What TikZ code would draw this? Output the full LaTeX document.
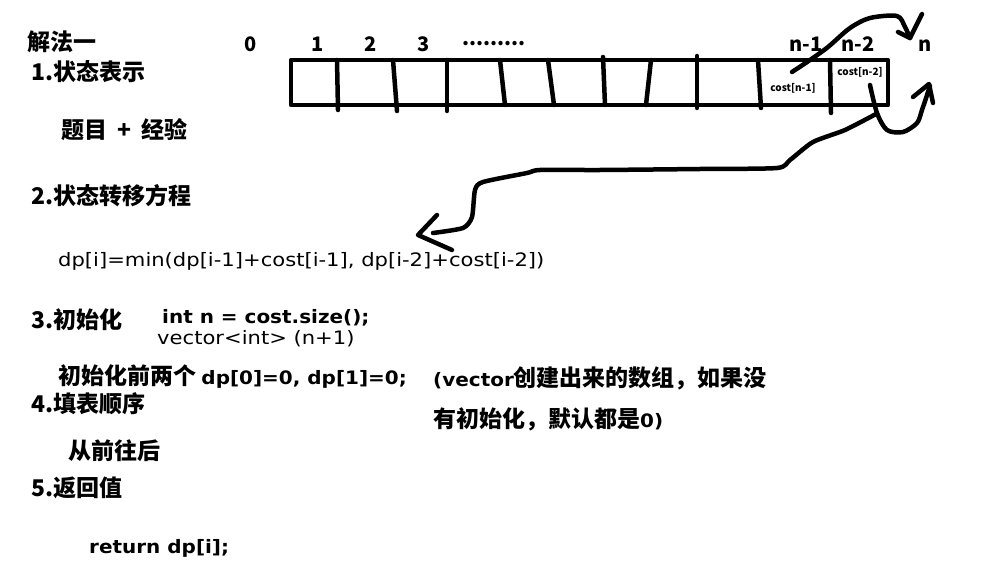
\documentclass[tikz,border=0pt]{standalone}
\usepackage{fontspec}
\setmainfont{Noto Sans CJK SC}
\newfontfamily\latr[FakeStretch=1.14]{DejaVu Sans}
\newfontfamily\latb[FakeStretch=1.08]{DejaVu Sans Bold}
\newcommand{\latrf}{\latr\fontsize{18.5}{18.5}\selectfont}
\newcommand{\latbf}{\latb\fontsize{18.5}{18.5}\selectfont}
\begin{document}
\begin{tikzpicture}[x=1pt,y=-1pt,
  hd/.style={line width=4.5pt,line cap=round,line join=round},
  tb/.style={anchor=west,inner sep=0pt,font=\bfseries\fontsize{23}{23}\selectfont},
  tr/.style={anchor=west,inner sep=0pt,font=\latrf},
  lb/.style={anchor=west,inner sep=0pt,font=\latbf},
  idx/.style={inner sep=0pt,font=\bfseries\fontsize{20}{20}\selectfont},
  sm/.style={inner sep=0pt,font=\bfseries\fontsize{10}{10}\selectfont}]
\useasboundingbox (0,0) rectangle (983,575);
% left column texts
\node[tb] (t0) at (27,42) {解法一};
\node[tb] (t1) at (31,72) {1.状态表示};
\node[tb] (t1b) at (61,130) {题目\hspace{5pt} + \hspace{5pt}经验};
\node[tb] (t2) at (31,196) {2.状态转移方程};
\node[tr] (eq) at (58,261) {dp[i]=min(dp[i-1]+cost[i-1], dp[i-2]+cost[i-2])};
\node[tb] (t3) at (31,320) {3.初始化};
\node[lb] (c1) at (162,318) {int n = cost.size();};
\node[tr] (c2) at (157,339) {vector<int> (n+1)};
\node[tb] (c3) at (58,376) {初始化前两个 {\latbf dp[0]=0, dp[1]=0;}};
\node[tb] (t4) at (31,404) {4.填表顺序};
\node[tb] (n1) at (433,378) {{\latbf (vector}创建出来的数组，如果没};
\node[tb] (n2) at (433,419) {有初始化，默认都是{\latbf 0)}};
\node[tb] (t4b) at (68,451) {从前往后};
\node[tb] (t5) at (31,488) {5.返回值};
\node[lb] (r) at (89,548) {return dp[i];};
% indices
\node[idx] (i0) at (251,44) {0};
\node[idx] (i1) at (318,44) {1};
\node[idx] (i2) at (371,44) {2};
\node[idx] (i3) at (424,44) {3};
\node[idx] (id) at (494,44) {.........};
\node[idx] (inm1) at (806,44) {n-1};
\node[idx] (inm2) at (858,44) {n-2};
\node[idx] (in) at (925,46) {n};
% array
\draw[hd] (291,60) rectangle (888,105);
\draw[hd] (337,60) -- (338,110);
\draw[hd] (393,60) -- (397,111);
\draw[hd] (447,60) -- (447,111);
\draw[hd] (500,60) -- (505,105);
\draw[hd] (548,60) -- (554,105);
\draw[hd] (603,57) -- (605,105);
\draw[hd] (651,60) -- (646,105);
\draw[hd] (697,56) -- (697,108);
\draw[hd] (758,60) -- (761,108);
\draw[hd] (830,60) -- (831,113);
\node[sm] (cn1) at (793,88) {cost[n-1]};
\node[sm] (cn2) at (860,72) {cost[n-2]};
% freehand arrows
\draw[hd] plot[smooth,tension=0.5] coordinates {(792,72) (810,60) (828,47) (850,28) (870,18) (897,16) (905,27) (910,38)};
\draw[hd] (898,32) -- (910,38) -- (922,14);
\draw[hd] plot[smooth,tension=0.5] coordinates {(870,85) (877,113) (887,130) (903,132) (917,123) (922,110) (930,86)};
\draw[hd] (913,97) -- (929,84) -- (933,103);
\draw[hd] plot[smooth,tension=0.4] coordinates {(876,114) (845,130) (813,142) (790,160) (777,168) (700,169) (600,170) (540,170) (527,173) (483,182) (475,190) (472,217) (463,228) (433,233)};
\draw[hd] (437,215) -- (418,235) -- (452,250);
\end{tikzpicture}
\end{document}
